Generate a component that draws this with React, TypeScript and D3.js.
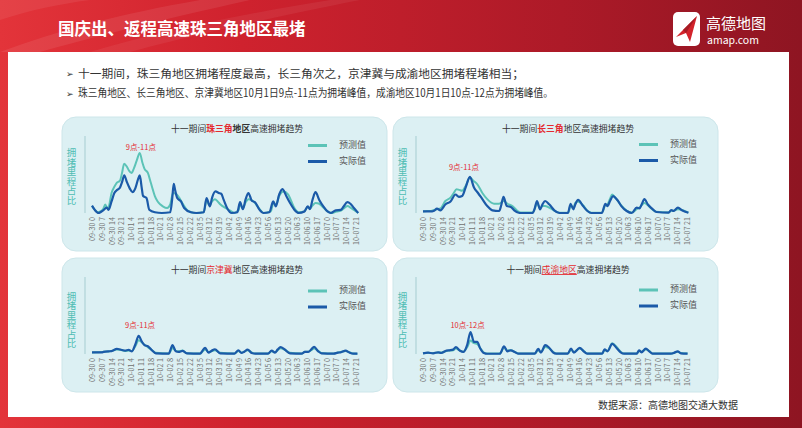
import { useEffect, useRef } from 'react';
import * as d3 from 'd3';

type Pt = [number, number];

// hours since 09-30 00:00, every 7 hours
const hourTicks = [0, 7, 14, 21, 28, 35, 42, 49, 56, 63, 70, 77, 84, 91, 98, 105, 112, 119, 126, 133, 140, 147, 154, 161, 168, 175, 182, 189];
const tickLabels = [
  '09-30 0', '09-30 7', '09-30 14', '09-30 21', '10-01 4', '10-01 11', '10-01 18',
  '10-02 1', '10-02 8', '10-02 15', '10-02 22', '10-03 5', '10-03 12', '10-03 19',
  '10-04 2', '10-04 9', '10-04 16', '10-04 23', '10-05 6', '10-05 13', '10-05 20',
  '10-06 3', '10-06 10', '10-06 17', '10-07 0', '10-07 7', '10-07 14', '10-07 21',
];

const bullets = [
  '十一期间，珠三角地区拥堵程度最高，长三角次之，京津冀与成渝地区拥堵程堵相当；',
  '珠三角地区、长三角地区、京津冀地区10月1日9点-11点为拥堵峰值，成渝地区10月1日10点-12点为拥堵峰值。',
];
const bulletWidths = [446, 475];

// [hour, share] (share relative to the axis height)
const zsjPredicted: Pt[] = [
  [0, 9], [2, 4], [4, 1], [6, 2], [8, 5], [9.5, 11], [11, 6], [12, 8], [14, 26], [16, 34], [17.7, 39], [20, 42],
  [21.5, 52], [23, 64], [25, 60], [26.5, 55], [28.3, 52], [30, 58], [32, 68], [34.2, 78], [36, 66], [37.7, 57],
  [40, 52], [42, 40], [43.6, 30], [45, 22], [47, 15], [49, 11], [50.7, 8.7], [53.8, 6.5], [56, 11], [58, 26],
  [60, 25], [62, 21], [65, 12], [68, 4], [71, 1], [74, 0], [80, 1], [82, 16], [84, 10], [86, 15], [88, 18],
  [90, 15], [92, 11], [95.5, 6.5], [99, 3], [102, 0], [105, 4], [106, 12], [108, 6], [110, 14], [112, 18],
  [114, 17], [116.7, 13], [120, 5], [123, 0], [128, 2], [130, 14], [131.6, 10], [134, 22], [137, 28],
  [140.5, 24], [142.5, 16], [145, 6], [148, 1], [152, 2], [154.5, 8], [156, 6], [158, 10], [160, 13],
  [162.7, 12], [165.6, 7], [168.6, 2], [172, 0], [175, 2], [178, 3], [181, 7], [183, 9], [185, 7],
  [187.5, 4], [190.6, 0],
];
const zsjActual: Pt[] = [
  [0, 9.5], [2, 4], [4.7, 0], [6, 1], [8, 3.5], [10.6, 7], [11.8, 4], [14, 15], [16, 26], [18, 30], [20, 33],
  [21.5, 40], [23.1, 49], [25, 40], [27, 32], [29, 27], [31, 32], [33, 44], [34.2, 49], [35.5, 34], [36.6, 22],
  [39, 19.5], [41, 4.3], [45, 1], [50, 0], [56, 1], [57.5, 20], [58.5, 38], [59.5, 30], [61, 19.5], [63.7, 15],
  [66, 6.5], [70.8, 1], [75, 0], [80, 1], [82, 19.5], [84.4, 8.7], [86, 20], [88.4, 28], [90.8, 26], [92.5, 25],
  [94.3, 17], [96.7, 6.5], [100, 0], [104, 1], [106, 14], [108, 5], [110, 18], [112, 26], [114.4, 16],
  [116.7, 14], [120, 4], [122.6, 0], [127, 1], [129.7, 15], [131.6, 8.7], [134, 24], [136.3, 31], [139, 22.5],
  [141.5, 14], [145, 4], [148, 0], [152, 2], [154.5, 8.7], [156, 5], [158, 18], [160, 27], [162.7, 17],
  [165.6, 8.7], [168.6, 2], [171, 0], [174.5, 3.5], [178, 4], [180, 8], [182.8, 14], [185, 12], [187.5, 6.5],
  [190.6, 0],
];

const csjPredicted: Pt[] = [
  [0, 2], [3, 2.5], [6.5, 3], [8, 4], [10, 5], [12.5, 6], [16, 15.6], [19.7, 20], [22, 26], [24, 31], [26, 30],
  [28, 29], [30.5, 35], [33.6, 46], [36, 42], [39, 37], [42.5, 26], [46, 18], [50.9, 12], [54.5, 12], [57.6, 15.6],
  [60.5, 12], [64, 9], [67.7, 2.6], [70, 0.5], [78.5, 0.5], [80, 5], [81.6, 13], [83.8, 6], [85.5, 9], [87.4, 9],
  [91.7, 5.6], [95, 2], [98, 0.3], [104, 0.5], [105.7, 10], [107.6, 6], [109, 13], [111, 15], [114.6, 10],
  [117.7, 3], [120.5, 0.3], [128, 0.5], [130.6, 10], [132, 11], [134, 19], [135.4, 24], [138, 19], [142, 10],
  [145.8, 3], [149.4, 0.5], [153, 5], [155, 7], [156.5, 10], [158.5, 13], [161, 10], [164, 5], [167, 1.5],
  [175.8, 0.5], [177.7, 3], [179.4, 3], [182.5, 5], [185.4, 4], [190, 0.5],
];
const csjActual: Pt[] = [
  [0, 2], [3, 2], [6.5, 2], [8, 3], [10, 5.6], [12.5, 3.5], [16, 11], [19.7, 15], [23.3, 24], [25.7, 21], [28, 22],
  [30.5, 33], [33.6, 47], [36.5, 33], [39.4, 26], [42.5, 18], [46, 9], [49.7, 3.5], [54.5, 2.6], [56, 10],
  [57.6, 21], [60, 9], [62.9, 7.8], [65.3, 3.5], [69, 0], [78.5, 0], [80, 6], [81.6, 15.6], [83.8, 4.8],
  [85.5, 11], [87.4, 15.6], [90.5, 11], [94, 3.5], [97.7, 0], [103.7, 0], [105.7, 12], [107.6, 4.8], [109, 11],
  [111, 17], [114.6, 9], [117.7, 2.6], [120.5, 0], [128, 0], [130.6, 12], [132, 9], [134, 16], [136, 22],
  [139.3, 16.5], [142, 9], [145.8, 2.6], [149.4, 0], [153, 7], [155, 6], [156.5, 11], [158.5, 18], [161, 11],
  [164, 5.6], [167, 1.3], [175.8, 0.5], [177.7, 3.9], [179.4, 2.6], [182.5, 7], [185.4, 3.5], [190, 0.4],
];

const jjjPredicted: Pt[] = [
  [0, 2], [4, 2.2], [7, 2.5], [8.3, 3], [11.9, 3.2], [14, 4], [17.8, 6], [20.2, 5.5], [23.8, 4], [26.2, 4.5],
  [28.6, 4], [31, 10], [33.4, 18], [35.7, 15], [37.6, 12], [40, 9], [42.9, 5], [45.7, 1.5], [55, 0.5], [56.3, 4],
  [57.6, 8], [60, 4], [62, 3.5], [64.8, 4.5], [67.9, 1], [77.4, 0.5], [79, 3], [81, 6], [83.4, 2.5], [85.5, 3.5],
  [88, 5], [91.7, 1.5], [102, 0.5], [104.8, 4], [107, 2], [109, 3], [111.4, 5], [114.3, 2], [117, 0.5],
  [126, 0.5], [128.6, 3.5], [131, 2.5], [133, 5], [135, 7.5], [138, 5.5], [141.7, 1.5], [150, 0.5], [152.4, 3],
  [154.8, 3], [157, 5], [159, 7], [162, 4], [164.3, 1.2], [173, 0.5], [176, 2], [178, 2.5], [181.6, 4],
  [184, 2.5], [187, 0.5], [190, 0.4],
];
const jjjActual: Pt[] = [
  [0, 2.2], [4, 2], [7, 2.2], [8.3, 2.7], [11.9, 3.5], [14, 3.8], [17.8, 6.7], [20.2, 5.8], [23.8, 4.4],
  [26.2, 5.3], [28.6, 3.5], [31, 12.4], [33.4, 23.5], [35.7, 16], [37.6, 11.5], [40, 10], [42.9, 4.9],
  [45.7, 0.9], [55, 0.5], [56.3, 6], [57.6, 11.5], [60, 3.5], [62, 2.7], [64.8, 4], [67.9, 0.9], [77.4, 0.5],
  [79, 4], [81, 8], [83.4, 1.8], [85.5, 4], [88, 6.2], [91.7, 0.9], [102, 0.5], [104.8, 4.9], [107, 1.3],
  [109, 3], [111.4, 5.8], [114.3, 1.3], [117, 0.5], [126, 0.5], [128.6, 4.4], [131, 1.8], [133, 6], [135, 8.9],
  [138, 5.8], [141.7, 0.9], [150, 0.5], [152.4, 2.7], [154.8, 2.7], [157, 6], [159, 9.3], [162, 3.5],
  [164.3, 0.9], [173, 0.5], [176, 1.8], [178, 2.2], [181.6, 4.4], [184, 2.2], [187, 0.4], [190, 0.4],
];

const cyPredicted: Pt[] = [
  [0, 1], [3.6, 1.5], [7.2, 1.2], [10.8, 2], [13, 1.8], [16.8, 4], [19, 4.5], [21.6, 5], [23.5, 7], [26.4, 4.5],
  [28.8, 3], [31.7, 9], [34, 17.5], [36.5, 14], [38.8, 13], [40.8, 8], [43.6, 2], [46, 0.5], [55, 0.5], [58, 8],
  [60.4, 4.5], [62.8, 5], [66, 2.5], [68.3, 0.6], [80, 0.5], [82.5, 5], [84.4, 2.5], [87.5, 9], [90, 7.5],
  [93, 3], [95.4, 0.6], [103.6, 0.5], [106, 5.5], [108, 2.5], [112.2, 7], [115, 4], [117.5, 0.6], [128.3, 0.5],
  [130, 5], [132, 4], [135.5, 14], [138.6, 9], [141.5, 3], [144, 0.6], [153, 0.5], [154.7, 4], [156.4, 3],
  [159.5, 6], [162, 4], [164.3, 0.6], [177.5, 0.5], [180, 1.5], [182.3, 3], [184.6, 1.2], [189.4, 0.5],
];
const cyActual: Pt[] = [
  [0, 0.9], [3.6, 1.8], [7.2, 0.9], [10.8, 2.2], [13, 1.3], [16.8, 4.4], [19, 4.8], [21.6, 5.7], [23.5, 8.8],
  [26.4, 4.4], [28.8, 2.6], [31.7, 12.3], [34, 28.5], [36.5, 15.8], [38.8, 15.8], [40.8, 7.9], [43.6, 1.3],
  [46, 0.3], [55, 0.3], [58, 10], [60.4, 3.5], [62.8, 4.8], [66, 2.2], [68.3, 0.4], [80, 0.4], [82.5, 6.6],
  [84.4, 1.8], [87.5, 11.4], [90, 8.8], [93, 2.2], [95.4, 0.4], [103.6, 0.4], [106, 7], [108, 1.8], [112.2, 7.9],
  [115, 3.5], [117.5, 0.4], [128.3, 0.4], [130, 6.1], [132, 3.5], [135.5, 13.2], [138.6, 7.9], [141.5, 2.2],
  [144, 0.4], [153, 0.4], [154.7, 4.8], [156.4, 2.2], [159.5, 7], [162, 3.5], [164.3, 0.4], [177.5, 0.4],
  [180, 1.8], [182.3, 3.5], [184.6, 0.9], [189.4, 0.4],
];

const FONT = '"Noto Sans CJK SC", "Noto Sans", sans-serif';
const TEAL = '#5cc3b7';
const BLUE = '#1b5aa8';
const RED = '#e42a2f';

interface TitlePart { text: string; red?: boolean; bold?: boolean; underline?: boolean }
interface PanelCfg {
  x: number;
  y: number;
  title: TitlePart[];
  predicted: Pt[];
  actual: Pt[];
  note: string;
  noteHour: number;
  noteY: number;
  legendY: number;
  labelTop: number;
}

const panels: PanelCfg[] = [
  {
    x: 62, y: 117, predicted: zsjPredicted, actual: zsjActual, note: '9点-11点', noteHour: 35, noteY: 31,
    legendY: 28.5, labelTop: 31,
    title: [{ text: '十一期间' }, { text: '珠三角', red: true, bold: true }, { text: '地区', bold: true }, { text: '高速拥堵趋势' }],
  },
  {
    x: 393, y: 117, predicted: csjPredicted, actual: csjActual, note: '9点-11点', noteHour: 29.3, noteY: 51,
    legendY: 27.5, labelTop: 31,
    title: [{ text: '十一期间' }, { text: '长三角', red: true, bold: true }, { text: '地区高速拥堵趋势' }],
  },
  {
    x: 62, y: 258, predicted: jjjPredicted, actual: jjjActual, note: '9点-11点', noteHour: 34.4, noteY: 68,
    legendY: 33, labelTop: 33.5,
    title: [{ text: '十一期间' }, { text: '京津冀', red: true }, { text: '地区高速拥堵趋势' }],
  },
  {
    x: 393, y: 258, predicted: cyPredicted, actual: cyActual, note: '10点-12点', noteHour: 31.9, noteY: 68,
    legendY: 32, labelTop: 33.5,
    title: [{ text: '十一期间' }, { text: '成渝地区', red: true, underline: true }, { text: '高速拥堵趋势' }],
  },
];

function Panel({ cfg }: { cfg: PanelCfg }) {
  const axisRef = useRef<SVGGElement>(null);
  const x = d3.scaleLinear().domain([0, 189]).range([30, 294]);
  const y = d3.scaleLinear().domain([0, 100]).range([96, 19]);
  const line = d3.line<Pt>().x((d) => x(d[0])).y((d) => y(d[1])).curve(d3.curveMonotoneX);

  useEffect(() => {
    if (!axisRef.current) return;
    const g = d3.select(axisRef.current);
    g.selectAll('*').remove();
    g.call(
      d3.axisBottom(x)
        .tickValues(hourTicks)
        .tickFormat((_, i) => tickLabels[i])
        .tickSize(0)
        .tickPadding(0),
    );
    g.attr('font-size', 7.2).attr('font-family', FONT).attr('color', '#707070');
    g.select('.domain').remove();
    g.selectAll('text')
      .attr('transform', 'rotate(-90)')
      .attr('x', -4)
      .attr('y', 0)
      .attr('dy', '0.35em')
      .style('text-anchor', 'end');
  }, []);

  return (
    <g transform={`translate(${cfg.x},${cfg.y})`}>
      <rect width={325} height={134} rx={14} fill="#dcf0f3" stroke="#cde6ea" strokeWidth={1} />
      <text x={175} y={13} textAnchor="middle" dominantBaseline="middle" fontSize={8.8} fontFamily={FONT} fill="#333">
        {cfg.title.map((p, i) => (
          <tspan
            key={i}
            fill={p.red ? RED : '#333'}
            fontWeight={p.bold ? 700 : 400}
            textDecoration={p.underline ? 'underline' : undefined}
          >
            {p.text}
          </tspan>
        ))}
      </text>

      <text x={9.5} y={cfg.labelTop} fontSize={9.5} fontFamily={FONT} fill="#4fbdb3"
        style={{ writingMode: 'vertical-rl' }}>
        拥堵里程占比
      </text>

      <line x1={23} x2={23} y1={19} y2={96} stroke="#a6cdd1" strokeWidth={1} />

      <path d={line(cfg.predicted) || ''} fill="none" stroke={TEAL} strokeWidth={2} strokeLinejoin="round" />
      <path d={line(cfg.actual) || ''} fill="none" stroke={BLUE} strokeWidth={2.2} strokeLinejoin="round" />

      <g ref={axisRef} transform="translate(0,96)" />

      <text x={x(cfg.noteHour)} y={cfg.noteY} textAnchor="middle" dominantBaseline="middle" fontSize={7.5}
        fontFamily={FONT} fill={RED}>
        {cfg.note}
      </text>

      <line x1={246} x2={265} y1={cfg.legendY} y2={cfg.legendY} stroke={TEAL} strokeWidth={3} />
      <text x={277} y={cfg.legendY} dominantBaseline="middle" fontSize={9} fontFamily={FONT} fill="#555">预测值</text>
      <line x1={246} x2={265} y1={cfg.legendY + 16} y2={cfg.legendY + 16} stroke={BLUE} strokeWidth={3} />
      <text x={277} y={cfg.legendY + 16} dominantBaseline="middle" fontSize={9} fontFamily={FONT} fill="#555">实际值</text>
    </g>
  );
}

export default function App() {
  return (
    <>
      <style>{'body{margin:0}'}</style>
      <svg width={802} height={428} style={{ display: 'block' }}>
        <defs>
          <linearGradient id="frame" x1="0" x2="1" y1="0" y2="0">
            <stop offset="0" stopColor="#e3343a" />
            <stop offset="0.3" stopColor="#cf222e" />
            <stop offset="0.7" stopColor="#ad1a28" />
            <stop offset="1" stopColor="#8e1522" />
          </linearGradient>
        </defs>
        <rect width={802} height={428} fill="url(#frame)" />
        <path d="M0,52 C60,30 120,14 200,0 L250,0 C160,20 90,38 40,52 Z" fill="#fff" opacity={0.08} />
        <path d="M90,52 C150,34 230,16 330,0 L360,0 C260,20 180,38 130,52 Z" fill="#fff" opacity={0.06} />
        <path d="M0,20 C30,10 60,4 90,0 L0,0 Z" fill="#fff" opacity={0.07} />
        <rect x={8} y={52} width={781} height={365} fill="#fff" />

        <text x={58} y={31} dominantBaseline="middle" fontSize={16.5} fontWeight={700} fontFamily={FONT} fill="#fff">
          国庆出、返程高速珠三角地区最堵
        </text>

        <g>
          <rect x={673} y={12} width={27} height={34} rx={5} fill="#fff" />
          <path d="M676,37 L697,16 L690,42 L686,33 Z" fill="#d3232b" />
          <path d="M686,33 L697,16 L683,30 Z" fill="#a51b24" />
          <text x={706} y={25} dominantBaseline="middle" fontSize={15} fontFamily={FONT} fill="#fff">高德地图</text>
          <text x={707} y={41} dominantBaseline="middle" fontSize={10.5} fontFamily={FONT} fill="#fff">amap.com</text>
        </g>

        {bullets.map((b, i) => (
          <g key={i}>
            <text x={66} y={74.5 + i * 19.5} dominantBaseline="middle" fontSize={9} fontFamily='"DejaVu Sans"' fill="#333">➢</text>
            <text x={78} y={74.5 + i * 19.5} dominantBaseline="middle" fontSize={11.2} fontFamily={FONT} fill="#333"
              textLength={bulletWidths[i]} lengthAdjust="spacingAndGlyphs">
              {b}
            </text>
          </g>
        ))}

        {panels.map((p, i) => <Panel key={i} cfg={p} />)}

        <text x={598} y={406} dominantBaseline="middle" fontSize={10} fontFamily={FONT} fill="#333">
          数据来源：高德地图交通大数据
        </text>
      </svg>
    </>
  );
}
